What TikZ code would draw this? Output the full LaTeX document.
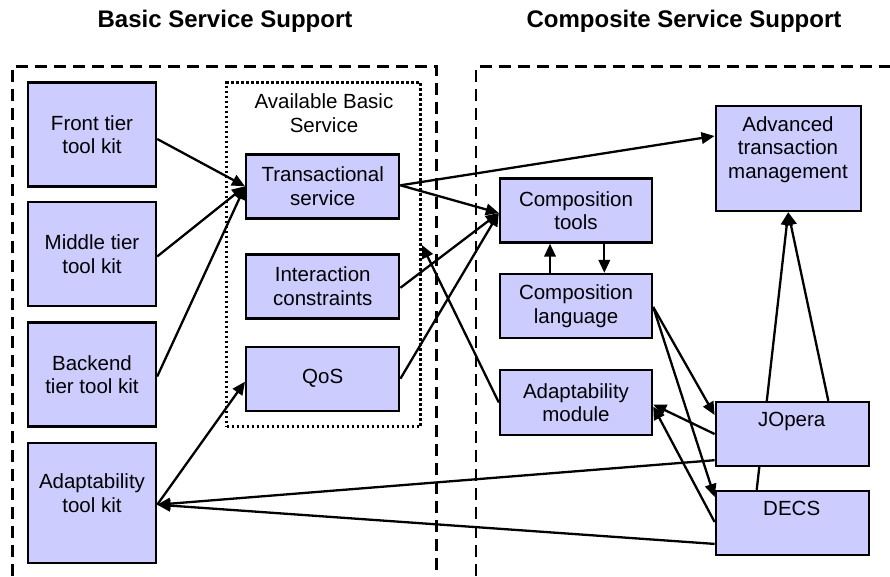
\documentclass[tikz,border=0pt]{standalone}
\usepackage{fontspec}
\setmainfont{Liberation Sans}
\usetikzlibrary{arrows.meta,calc,backgrounds}
\definecolor{boxfill}{RGB}{204,204,255}
\begin{document}
\begin{tikzpicture}[x=1pt,y=-1pt,
  box/.style={draw=black, fill=boxfill, line width=2.4pt, inner sep=0pt, align=center, font=\fontsize{20.5}{23.5}\selectfont},
  kit/.style={box, minimum width=128pt, minimum height=104pt},
  svc/.style={box, minimum width=153pt, minimum height=64pt},
  lbl/.style={inner sep=0pt, align=center, font=\fontsize{20.5}{23.5}\selectfont},
  title/.style={inner sep=0pt, font=\fontsize{24}{28}\selectfont\bfseries},
  frame/.style={line width=2.8pt, dash pattern=on 12pt off 7pt},
  dotbox/.style={draw=black, line width=2.5pt, dash pattern=on 2.5pt off 2.5pt, inner sep=0pt, minimum width=194pt, minimum height=344pt},
  conn/.style={line width=2.3pt, -{Triangle[length=13pt,width=11.5pt]}},
  plain/.style={line width=2.3pt}
]
\useasboundingbox (0,0) rectangle (890,576);

% titles
\node[title] (t1) at (225,21) {Basic Service Support};
\node[title] (t2) at (684,21) {Composite Service Support};

% frames
\draw[frame] (12.7,576) -- (12.7,66.7) -- (436.7,66.7) -- (436.7,576);
\draw[frame] (476,576) -- (476,66.7) -- (890,66.7);

% available basic service
\node[dotbox] (abs) at (323.7,254.5) {};
\node[lbl] (abst) at (324,113.3) {Available Basic\\Service};

% left kits
\node[kit] (fk) at (92,134.5) {Front tier\\tool kit};
\node[kit] (mk) at (92,254) {Middle tier\\tool kit};
\node[kit] (bk) at (92,374.5) {Backend\\tier tool kit};
\node[kit, minimum height=120pt] (atk) at (92,502.7) {};
\node[lbl] (atkt) at (92,493.3) {Adaptability\\tool kit};

% basic services
\node[svc] (ts) at (322.7,186.3) {Transactional\\service};
\node[svc] (ic) at (322.7,286.3) {Interaction\\constraints};
\node[svc] (qos) at (322.7,378.7) {QoS};

% composite side
\node[svc, minimum width=152pt] (ct) at (576,210.5) {Composition\\tools};
\node[svc, minimum width=152pt] (cl) at (576,306) {Composition\\language};
\node[svc, minimum width=152pt, minimum height=65pt] (am) at (576,402.5) {Adaptability\\module};
\node[box, minimum width=145pt, minimum height=105pt] (atm) at (788.2,158.5) {};
\node[lbl] (atmt) at (788,149.3) {Advanced\\transaction\\management};

\node[svc] (decs) at (792.3,523) {};
\node[lbl] (decst) at (791.7,508) {DECS};
\begin{scope}[on background layer]
\draw[conn] ($(decs.north)+(-35.6,0)$) -- (atm.south);
\end{scope}
\node[svc] (jo) at (792.3,434) {};
\node[lbl] (jot) at (791.7,421.7) {JOpera};

% connectors, left side
\draw[conn] ($(fk.east)+(0,4.5)$) -- (ts.west);
\draw[conn] ($(mk.east)+(0,2.5)$) -- (ts.west);
\draw[conn] ($(bk.east)+(0,2)$) -- (ts.west);
\draw[conn] ($(atk.east)+(0,2)$) -- ($(qos.west)+(0,3)$);

% from basic services
\draw[conn] ($(ts.east)+(0,-1)$) -- ($(atm.west)+(0,-22.5)$);
\draw[conn] ($(ts.east)+(0,-1)$) -- ($(ct.west)+(0,2.5)$);
\draw[conn] ($(ic.east)+(0,1.5)$) -- ($(ct.west)+(0,2.5)$);
\draw[conn] (qos.east) -- ($(ct.west)+(0,2.5)$);

% adaptability module to available basic service
\draw[conn] (am.west) -- ($(abs.east)+(0,-9.5)$);

% composition tools / language
\draw[conn] ($(cl.north)+(-26,0)$) -- ($(ct.south)+(-26,0)$);
\draw[conn] ($(ct.south)+(28.3,0)$) -- ($(cl.north)+(28.3,0)$);

% composition language to engines
\draw[conn] ($(cl.east)+(0,1)$) -- ($(jo.west)+(0,-19)$);
\draw[conn] ($(cl.east)+(0,1)$) -- ($(decs.west)+(0,-26)$);

% engines to adaptability module
\draw[conn] (jo.west) -- ($(am.east)+(0,2)$);
\draw[conn] ($(decs.west)+(0,-1)$) -- ($(am.east)+(0,4)$);

% JOpera to advanced transaction management
\draw[conn] ($(jo.north)+(36,0)$) -- (atm.south);

% engines to adaptability tool kit
\draw[conn] ($(jo.south west)+(0,-7)$) -- ($(atk.east)+(0,2)$);
\draw[conn] ($(decs.south west)+(0,-12.3)$) -- ($(atk.east)+(0,2)$);
\end{tikzpicture}
\end{document}
